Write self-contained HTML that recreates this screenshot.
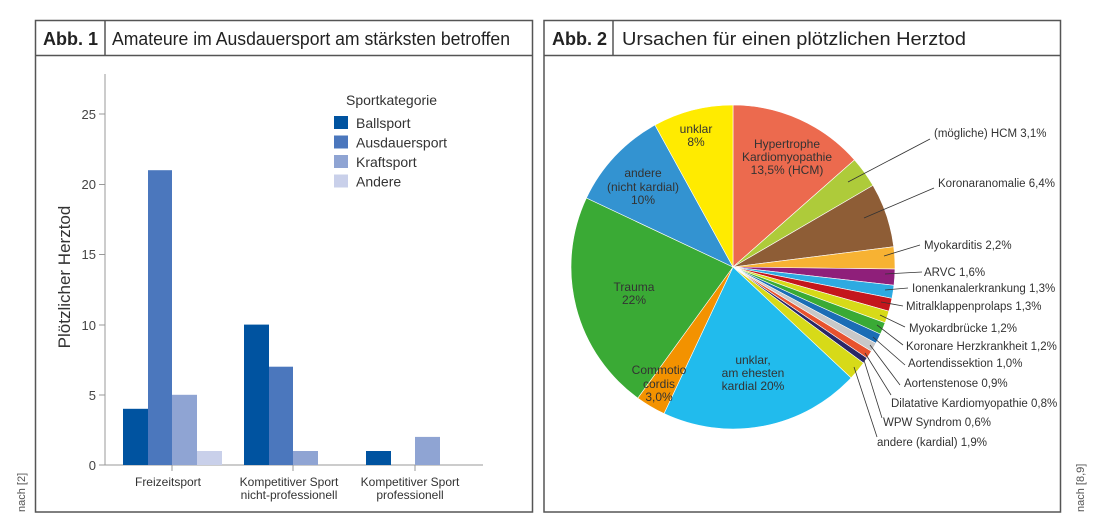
<!DOCTYPE html>
<html><head><meta charset="utf-8"><style>
html,body{margin:0;padding:0;background:#fff;}
svg{display:block;font-family:"Liberation Sans",sans-serif;}
</style></head><body>
<svg id="s" width="1100" height="529" viewBox="0 0 1100 529" xmlns="http://www.w3.org/2000/svg">
<rect width="1100" height="529" fill="#fff"/>
<!-- Left panel -->
<rect x="35.5" y="20.5" width="497" height="491.5" fill="none" stroke="#555" stroke-width="1.5"/>
<line x1="35.5" y1="55.5" x2="532.5" y2="55.5" stroke="#555" stroke-width="1.5"/>
<line x1="105" y1="20.5" x2="105" y2="55.5" stroke="#555" stroke-width="1.5"/>
<text x="43" y="45" font-size="18" font-weight="bold" fill="#222">Abb. 1</text>
<text x="112" y="45" font-size="18" fill="#222" textLength="398" lengthAdjust="spacingAndGlyphs">Amateure im Ausdauersport am stärksten betroffen</text>
<!-- axes -->
<line x1="105" y1="74" x2="105" y2="465" stroke="#999" stroke-width="1"/>
<line x1="105" y1="465" x2="483" y2="465" stroke="#999" stroke-width="1"/>
<g stroke="#999"><line x1="99" y1="465" x2="105" y2="465"/><line x1="99" y1="395" x2="105" y2="395"/><line x1="99" y1="325" x2="105" y2="325"/><line x1="99" y1="254.5" x2="105" y2="254.5"/><line x1="99" y1="184.5" x2="105" y2="184.5"/><line x1="99" y1="114" x2="105" y2="114"/>
<line x1="172" y1="465" x2="172" y2="471"/><line x1="293" y1="465" x2="293" y2="471"/><line x1="415" y1="465" x2="415" y2="471"/></g>
<g font-size="13" fill="#444" text-anchor="end">
<text x="96" y="470">0</text><text x="96" y="400">5</text><text x="96" y="330">10</text><text x="96" y="259">15</text><text x="96" y="189">20</text><text x="96" y="119">25</text></g>
<text transform="translate(70,277) rotate(-90)" font-size="17" fill="#333" text-anchor="middle">Plötzlicher Herztod</text>
<!-- bars -->
<rect x="123" y="408.8" width="25" height="56.2" fill="#0053a0"/>
<rect x="148" y="170.2" width="24" height="294.8" fill="#4b77bd"/>
<rect x="172" y="394.8" width="25" height="70.2" fill="#8fa4d3"/>
<rect x="197" y="451" width="25" height="14" fill="#c9d0ea"/>
<rect x="244" y="324.6" width="25" height="140.4" fill="#0053a0"/>
<rect x="269" y="366.7" width="24" height="98.3" fill="#4b77bd"/>
<rect x="293" y="451" width="25" height="14" fill="#8fa4d3"/>
<rect x="366" y="451" width="25" height="14" fill="#0053a0"/>
<rect x="415" y="436.9" width="25" height="28.1" fill="#8fa4d3"/>
<g font-size="12" fill="#333" text-anchor="middle">
<text x="168" y="486">Freizeitsport</text>
<text x="289" y="486">Kompetitiver Sport</text><text x="289" y="499">nicht-professionell</text>
<text x="410" y="486">Kompetitiver Sport</text><text x="410" y="499">professionell</text></g>
<!-- legend -->
<text x="346" y="105" font-size="14" fill="#333">Sportkategorie</text>
<rect x="334" y="116" width="14" height="13" fill="#0053a0"/>
<rect x="334" y="135.5" width="14" height="13" fill="#4b77bd"/>
<rect x="334" y="155" width="14" height="13" fill="#8fa4d3"/>
<rect x="334" y="174.5" width="14" height="13" fill="#c9d0ea"/>
<g font-size="14" fill="#333"><text x="356" y="128">Ballsport</text><text x="356" y="147.5">Ausdauersport</text><text x="356" y="167">Kraftsport</text><text x="356" y="186.5">Andere</text></g>
<text transform="translate(25,512) rotate(-90)" font-size="11" fill="#555">nach [2]</text>
<!-- Right panel -->
<rect x="544" y="20.5" width="516.5" height="491.5" fill="none" stroke="#555" stroke-width="1.5"/>
<line x1="544" y1="55.5" x2="1060.5" y2="55.5" stroke="#555" stroke-width="1.5"/>
<line x1="613" y1="20.5" x2="613" y2="55.5" stroke="#555" stroke-width="1.5"/>
<text x="552" y="45" font-size="18" font-weight="bold" fill="#222">Abb. 2</text>
<text x="622" y="45" font-size="18" fill="#222" textLength="344" lengthAdjust="spacingAndGlyphs">Ursachen für einen plötzlichen Herztod</text>
<text transform="translate(1084,512) rotate(-90)" font-size="11" fill="#555">nach [8,9]</text>
<g id="pie"></g>
<g stroke="#333" stroke-width="0.8">
<line x1="848" y1="182" x2="930" y2="139"/>
<line x1="864" y1="218" x2="934" y2="188"/>
<line x1="884" y1="256" x2="920" y2="245"/>
<line x1="885" y1="274" x2="922" y2="272"/>
<line x1="885" y1="290" x2="908" y2="288"/>
<line x1="881" y1="302" x2="903" y2="306"/>
<line x1="880" y1="315" x2="905" y2="327"/>
<line x1="877" y1="325" x2="903" y2="345"/>
<line x1="873" y1="337" x2="905" y2="365"/>
<line x1="870" y1="345" x2="900" y2="385"/>
<line x1="865" y1="353" x2="891" y2="395"/>
<line x1="863" y1="357" x2="882" y2="418"/>
<line x1="854" y1="367" x2="877" y2="437"/>
</g>
<g font-size="11.5" fill="#333">
<text x="934" y="137">(mögliche) HCM 3,1%</text>
<text x="938" y="187">Koronaranomalie 6,4%</text>
<text x="924" y="249">Myokarditis 2,2%</text>
<text x="924" y="276">ARVC 1,6%</text>
<text x="912" y="292">Ionenkanalerkrankung 1,3%</text>
<text x="906" y="310">Mitralklappenprolaps 1,3%</text>
<text x="909" y="332">Myokardbrücke 1,2%</text>
<text x="906" y="350">Koronare Herzkrankheit 1,2%</text>
<text x="908" y="367">Aortendissektion 1,0%</text>
<text x="904" y="387">Aortenstenose 0,9%</text>
<text x="891" y="407">Dilatative Kardiomyopathie 0,8%</text>
<text x="883" y="426">WPW Syndrom 0,6%</text>
<text x="877" y="446">andere (kardial) 1,9%</text>
</g>
<g font-size="12" fill="#333" text-anchor="middle">
<text x="696" y="133">unklar</text><text x="696" y="146">8%</text>
<text x="787" y="148">Hypertrophe</text><text x="787" y="161">Kardiomyopathie</text><text x="787" y="174">13,5% (HCM)</text>
<text x="643" y="177">andere</text><text x="643" y="191">(nicht kardial)</text><text x="643" y="204">10%</text>
<text x="634" y="291">Trauma</text><text x="634" y="304">22%</text>
<text x="659" y="374">Commotio</text><text x="659" y="388">cordis</text><text x="659" y="401">3,0%</text>
<text x="753" y="364">unklar,</text><text x="753" y="377">am ehesten</text><text x="753" y="390">kardial 20%</text>
</g>
</svg>
<script>
var d=[[13.5,"#ec6a4e"],[3.1,"#aecb3a"],[6.4,"#8e5d36"],[2.2,"#f7b233"],[1.6,"#8f1f7a"],[1.3,"#2eaae1"],[1.3,"#c4161c"],[1.2,"#d7da18"],[1.2,"#3aaa35"],[1.0,"#1b6db5"],[0.9,"#c8c8c8"],[0.8,"#e8522e"],[0.6,"#2a2767"],[1.9,"#d7da18"],[20,"#21bbed"],[3.0,"#f39200"],[22,"#3aaa35"],[10,"#3393d1"],[8,"#ffeb00"]];
var cx=733,cy=267,r=162,a=0,g=document.getElementById("pie"),h="";
d.forEach(function(s){var a1=a+s[0]/100*2*Math.PI;
var x0=cx+r*Math.sin(a),y0=cy-r*Math.cos(a),x1=cx+r*Math.sin(a1),y1=cy-r*Math.cos(a1);
h+='<path d="M'+cx+','+cy+'L'+x0.toFixed(2)+','+y0.toFixed(2)+'A'+r+','+r+' 0 '+((a1-a)>Math.PI?1:0)+' 1 '+x1.toFixed(2)+','+y1.toFixed(2)+'Z" fill="'+s[1]+'" stroke="#fff" stroke-width="0.6"/>';a=a1;});
g.innerHTML=h;
</script>
</body></html>
